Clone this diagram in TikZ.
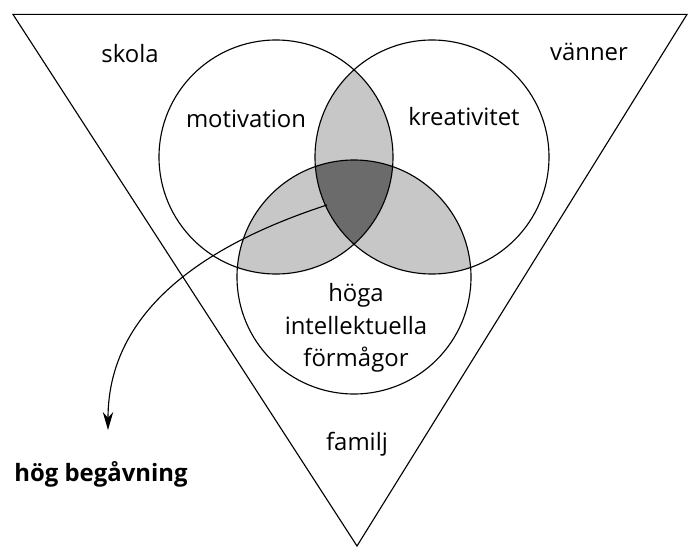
\documentclass[tikz,border=0pt]{standalone}
\usepackage{fontspec}
\setmainfont{Open Sans}
\usetikzlibrary{arrows.meta}

\definecolor{lightshade}{gray}{0.78}
\definecolor{darkshade}{gray}{0.42}
\tikzset{
  venntext/.style={font=\fontsize{17}{23}\selectfont, align=center},
}
\def\rad{2.925}

\begin{document}
\begin{tikzpicture}[line width=0.8pt]
\useasboundingbox (0,0) rectangle (17.225,13.7);

\coordinate (mot) at (6.9,9.775);
\coordinate (kre) at (10.8,9.775);
\coordinate (int) at (8.85,6.775);

% overlaps
\begin{scope}
\clip (mot) circle (\rad);
\fill [lightshade] (kre) circle (\rad);
\fill [lightshade] (int) circle (\rad);
\end{scope}
\begin{scope}
\clip (kre) circle (\rad);
\fill [lightshade] (int) circle (\rad);
\end{scope}
\begin{scope}
\clip (mot) circle (\rad);
\clip (kre) circle (\rad);
\fill [darkshade] (int) circle (\rad);
\end{scope}

\draw (0.325,13.34) -- (17.175,13.34) -- (8.925,0.05) -- cycle;
\draw (mot) circle (\rad);
\draw (kre) circle (\rad);
\draw (int) circle (\rad);

\node[venntext] (skola) at (3.25,12.35) {skola};
\node[venntext] (vanner) at (14.725,12.4) {vänner};
\node[venntext] (motivation) at (6.15,10.725) {motivation};
\node[venntext] (kreativitet) at (11.6,10.775) {kreativitet};
\node[venntext] (formagor) at (8.9,5.5) {höga\\intellektuella\\förmågor};
\node[venntext] (familj) at (8.925,2.6) {familj};
\node[venntext, font=\fontsize{17}{23}\selectfont\bfseries] (hog) at (2.525,1.85) {hög begåvning};

\coordinate (core) at (8.175,8.575);
\coordinate (tip) at (2.7,2.95);
\draw[-{Stealth[length=4.5mm,width=2.6mm]}] (core) to[out=198,in=90] (tip);
\end{tikzpicture}
\end{document}
